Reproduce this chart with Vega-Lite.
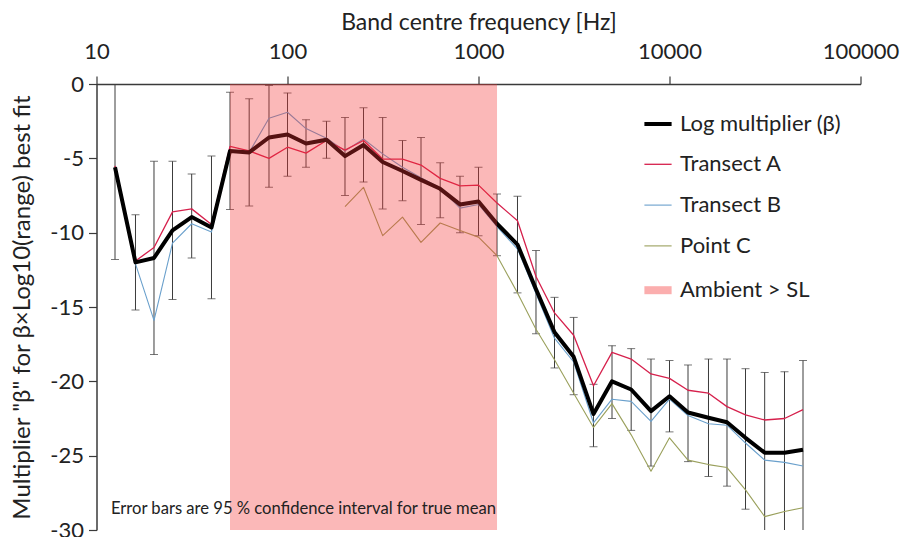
{
  "$schema": "https://vega.github.io/schema/vega-lite/v6.json",
  "width": 764,
  "height": 446,
  "autosize": {"type": "none"},
  "padding": {"left": 96.5, "top": 84, "right": 39.5, "bottom": 7},
  "background": "white",
  "config": {
    "font": "Lato",
    "view": {"stroke": null},
    "axis": {
      "grid": false,
      "domainColor": "#3a3a3a",
      "domainWidth": 1.5,
      "tickColor": "#3a3a3a",
      "tickWidth": 1.2,
      "tickSize": 8,
      "labelFont": "Lato",
      "labelFontSize": 22,
      "labelColor": "#222222",
      "titleFont": "Lato",
      "titleFontSize": 23,
      "titleFontWeight": "normal",
      "titleColor": "#222222",
      "labelOverlap": false,
      "labelBound": false,
      "labelFlush": false
    },
    "legend": {
      "orient": "none",
      "legendX": 543.5,
      "legendY": 24,
      "padding": 0,
      "symbolType": "stroke",
      "symbolSize": 740,
      "labelFont": "Lato",
      "labelFontSize": 22,
      "labelColor": "#222222",
      "labelLimit": 0,
      "labelOffset": 4,
      "rowPadding": 14.8
    }
  },
  "datasets": {
    "bands": [
      {"f": 12.5, "beta": -5.6, "A": -5.5, "B": -5.7, "C": null, "lo": -11.8, "hi": 0.6},
      {"f": 16, "beta": -12.0, "A": -11.9, "B": -12.1, "C": null, "lo": -15.2, "hi": -8.8},
      {"f": 20, "beta": -11.7, "A": -11.0, "B": -15.9, "C": null, "lo": -18.2, "hi": -5.2},
      {"f": 25, "beta": -9.85, "A": -8.6, "B": -10.7, "C": null, "lo": -14.5, "hi": -5.2},
      {"f": 31.5, "beta": -8.95, "A": -8.4, "B": -9.4, "C": null, "lo": -11.7, "hi": -6.05},
      {"f": 40, "beta": -9.65, "A": -9.45, "B": -9.95, "C": null, "lo": -14.45, "hi": -4.85},
      {"f": 50, "beta": -4.5, "A": -4.2, "B": -4.6, "C": null, "lo": -8.45, "hi": -0.55},
      {"f": 63, "beta": -4.6, "A": -4.5, "B": -4.6, "C": null, "lo": -8.2, "hi": -1.0},
      {"f": 80, "beta": -3.6, "A": -5.0, "B": -2.3, "C": null, "lo": -6.95, "hi": -0.1},
      {"f": 100, "beta": -3.4, "A": -4.25, "B": -1.9, "C": null, "lo": -6.2, "hi": -0.6},
      {"f": 125, "beta": -4.0, "A": -4.65, "B": -3.0, "C": null, "lo": -5.6, "hi": -2.4},
      {"f": 160, "beta": -3.75, "A": -3.8, "B": -3.65, "C": null, "lo": -5.0, "hi": -2.5},
      {"f": 200, "beta": -4.85, "A": -4.45, "B": -4.5, "C": -8.25, "lo": -7.5, "hi": -2.25},
      {"f": 250, "beta": -4.1, "A": -3.8, "B": -3.7, "C": -6.95, "lo": -6.6, "hi": -1.6},
      {"f": 315, "beta": -5.25, "A": -5.05, "B": -4.7, "C": -10.2, "lo": -8.4, "hi": -2.25},
      {"f": 400, "beta": -5.85, "A": -5.05, "B": -5.6, "C": -8.95, "lo": -7.85, "hi": -3.8},
      {"f": 500, "beta": -6.45, "A": -5.45, "B": -6.3, "C": -10.65, "lo": -9.45, "hi": -3.6},
      {"f": 630, "beta": -7.05, "A": -6.35, "B": -7.0, "C": -9.35, "lo": -9.0, "hi": -5.3},
      {"f": 800, "beta": -8.1, "A": -6.85, "B": -8.35, "C": -9.85, "lo": -10.0, "hi": -6.2},
      {"f": 1000, "beta": -7.9, "A": -6.8, "B": -8.1, "C": -10.3, "lo": -10.2, "hi": -5.6},
      {"f": 1250, "beta": -9.4, "A": -8.0, "B": -9.6, "C": -11.55, "lo": -11.55, "hi": -7.4},
      {"f": 1600, "beta": -10.8, "A": -9.2, "B": -11.1, "C": -14.05, "lo": -14.05, "hi": -7.55},
      {"f": 2000, "beta": -13.8, "A": -12.95, "B": -14.1, "C": -16.5, "lo": -16.8, "hi": -11.2},
      {"f": 2500, "beta": -16.7, "A": -15.4, "B": -17.1, "C": -18.55, "lo": -19.1, "hi": -14.35},
      {"f": 3150, "beta": -18.35, "A": -16.9, "B": -18.7, "C": -20.8, "lo": -20.9, "hi": -15.7},
      {"f": 4000, "beta": -22.2, "A": -20.3, "B": -22.8, "C": -23.1, "lo": -24.4, "hi": -20.2},
      {"f": 5000, "beta": -20.0, "A": -18.05, "B": -21.2, "C": -21.5, "lo": -22.5, "hi": -17.6},
      {"f": 6300, "beta": -20.55, "A": -18.5, "B": -21.35, "C": -23.6, "lo": -23.3, "hi": -17.8},
      {"f": 8000, "beta": -22.0, "A": -19.5, "B": -22.7, "C": -26.05, "lo": -25.7, "hi": -18.5},
      {"f": 10000, "beta": -21.0, "A": -19.8, "B": -21.2, "C": -23.8, "lo": -23.4, "hi": -18.6},
      {"f": 12500, "beta": -22.1, "A": -20.6, "B": -22.3, "C": -25.3, "lo": -25.4, "hi": -18.9},
      {"f": 16000, "beta": -22.45, "A": -20.8, "B": -22.85, "C": -25.6, "lo": -26.4, "hi": -18.5},
      {"f": 20000, "beta": -22.75, "A": -21.7, "B": -22.95, "C": -25.8, "lo": -27.05, "hi": -18.5},
      {"f": 25000, "beta": -23.8, "A": -22.25, "B": -24.15, "C": -27.3, "lo": -28.6, "hi": -19.15},
      {"f": 31500, "beta": -24.8, "A": -22.6, "B": -25.3, "C": -29.1, "lo": -30.2, "hi": -19.4},
      {"f": 40000, "beta": -24.8, "A": -22.5, "B": -25.45, "C": -28.75, "lo": -30.25, "hi": -19.35},
      {"f": 50000, "beta": -24.6, "A": -21.9, "B": -25.7, "C": -28.5, "lo": -30.6, "hi": -18.6}
    ],
    "shade": [{"lo": 50, "hi": 1250, "key": "amb"}],
    "note": [{"f": 11.9, "v": -28.6, "text": "Error bars are 95 % confidence interval for true mean"}]
  },
  "layer": [
    {
      "data": {"name": "bands"},
      "mark": {"type": "rule", "clip": true, "color": "#3c3c3c", "strokeWidth": 1},
      "encoding": {
        "x": {
          "field": "f",
          "type": "quantitative",
          "scale": {"type": "log", "domain": [10, 100000], "nice": false},
          "axis": {
            "orient": "top",
            "title": "Band centre frequency [Hz]",
            "values": [10, 100, 1000, 10000, 100000],
            "format": "d",
            "labelPadding": 13,
            "titlePadding": 6
          }
        },
        "y": {
          "field": "lo",
          "type": "quantitative",
          "scale": {"domain": [-30, 0], "nice": false, "zero": false},
          "axis": {
            "title": "Multiplier \"β\" for β×Log10(range) best fit",
            "titleFontSize": 24,
            "values": [-30, -25, -20, -15, -10, -5, 0],
            "labelExpr": "'' + datum.value",
            "labelPadding": 5,
            "titlePadding": 15
          }
        },
        "y2": {"field": "hi"}
      }
    },
    {
      "data": {"name": "bands"},
      "transform": [{"fold": ["lo", "hi"], "as": ["end", "ev"]}],
      "mark": {"type": "tick", "orient": "horizontal", "size": 8, "thickness": 1, "color": "#3c3c3c", "clip": true},
      "encoding": {
        "x": {"field": "f", "type": "quantitative"},
        "y": {"field": "ev", "type": "quantitative"}
      }
    },
    {
      "data": {"name": "bands"},
      "transform": [{"fold": ["C", "B", "A", "beta"], "as": ["key", "v"]}],
      "mark": {"type": "line", "strokeJoin": "round", "clip": true},
      "encoding": {
        "x": {"field": "f", "type": "quantitative"},
        "y": {"field": "v", "type": "quantitative"},
        "color": {
          "field": "key",
          "type": "nominal",
          "scale": {"domain": ["beta", "A", "B", "C", "amb"], "range": ["#000000", "#d6204c", "#6aa0cc", "#9aa05c", "#f43434"]},
          "legend": {
            "title": null,
            "labelExpr": "datum.label === 'beta' ? 'Log multiplier (β)' : datum.label === 'A' ? 'Transect A' : datum.label === 'B' ? 'Transect B' : datum.label === 'C' ? 'Point C' : 'Ambient > SL'",
            "encode": {"symbols": {"update": {"strokeOpacity": [{"test": "datum.value === 'amb'", "value": 0.4}, {"value": 1}]}}}
          }
        },
        "strokeWidth": {
          "field": "key",
          "type": "nominal",
          "scale": {"type": "ordinal", "domain": ["beta", "A", "B", "C", "amb"], "range": [4, 1.3, 1.1, 1.1, 8]},
          "legend": {
            "title": null,
            "labelExpr": "datum.label === 'beta' ? 'Log multiplier (β)' : datum.label === 'A' ? 'Transect A' : datum.label === 'B' ? 'Transect B' : datum.label === 'C' ? 'Point C' : 'Ambient > SL'"
          }
        }
      }
    },
    {
      "data": {"name": "shade"},
      "mark": {"type": "rect", "opacity": 0.35},
      "encoding": {
        "x": {"field": "lo", "type": "quantitative"},
        "x2": {"field": "hi"},
        "color": {
          "field": "key",
          "type": "nominal",
          "scale": {"domain": ["beta", "A", "B", "C", "amb"], "range": ["#000000", "#d6204c", "#6aa0cc", "#9aa05c", "#f43434"]},
          "legend": {
            "title": null,
            "labelExpr": "datum.label === 'beta' ? 'Log multiplier (β)' : datum.label === 'A' ? 'Transect A' : datum.label === 'B' ? 'Transect B' : datum.label === 'C' ? 'Point C' : 'Ambient > SL'",
            "encode": {"symbols": {"update": {"strokeOpacity": [{"test": "datum.value === 'amb'", "value": 0.4}, {"value": 1}]}}}
          }
        }
      }
    },
    {
      "data": {"name": "note"},
      "mark": {"type": "text", "align": "left", "baseline": "middle", "fontSize": 16.6, "font": "Lato", "color": "#222222"},
      "encoding": {
        "x": {"field": "f", "type": "quantitative"},
        "y": {"field": "v", "type": "quantitative"},
        "text": {"field": "text"}
      }
    }
  ]
}
